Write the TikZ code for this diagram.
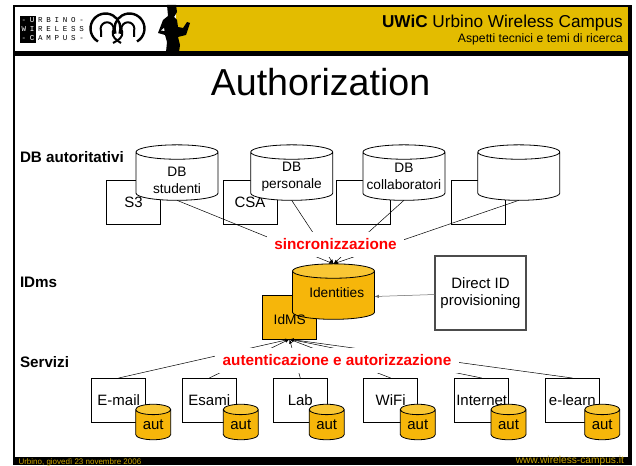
\documentclass[tikz,border=0pt]{standalone}
\usepackage{fontspec}
\setmainfont{Liberation Sans}
\newfontfamily\logofont[LetterSpace=50]{Liberation Mono}
\usetikzlibrary{positioning,shapes.geometric}

\definecolor{barcolor}{HTML}{E3BC00}
\definecolor{storecolor}{HTML}{F6B60A}
\definecolor{storetop}{HTML}{F9C735}
\definecolor{footcolor}{HTML}{C9A400}

\tikzset{
    every node/.style = {inner sep=0pt, outer sep=0pt},
    plain/.style = {draw, line width=0.8pt, fill=white, minimum width=54pt, minimum height=44pt, font=\fontsize{15}{17}\selectfont},
    store/.style = {cylinder, shape border rotate=90, draw, line width=0.8pt, inner sep=2pt, shape aspect=3.6, cylinder uses custom fill, cylinder body fill=white, cylinder end fill=white, minimum width=82pt, minimum height=55.5pt},
    goldstore/.style = {store, cylinder body fill=storecolor, cylinder end fill=storetop},
    autstore/.style = {goldstore, minimum width=35pt, minimum height=35.5pt, shape aspect=2.6},
    storetext/.style = {align=center, font=\fontsize{13.7}{17}\selectfont},
    auttext/.style = {font=\fontsize{15}{17}\selectfont},
    section/.style = {anchor=base west, font=\fontsize{15.2}{17}\selectfont\bfseries},
    banner/.style = {fill=white, text=red, font=\fontsize{15.3}{17}\selectfont\bfseries, minimum height=25pt},
    link/.style = {-latex, line width=0.5pt},
    logoline/.style = {anchor=base west, font=\logofont\fontsize{7.5}{8}\selectfont},
}

\begin{document}
\begin{tikzpicture}[x=1pt, y=-1pt]
    \useasboundingbox (0,0) rectangle (636,465);

    % slide frame
    \fill (12.5,5) rectangle (632,465);
    \fill[white] (15,7) rectangle (176,51);
    \fill[barcolor] (176,7) rectangle (628,51);
    \fill[white] (15,56) rectangle (628,457);

    % logo
    \fill (20,15.7) rectangle (35.5,42.7);
    \node (uwi1) [logoline, text=white] at (21.5,22.5) {-U};
    \node (uwi2) [logoline, text=white] at (21.5,31.5) {WI};
    \node (uwi3) [logoline, text=white] at (21.5,40.5) {-C};
    \node (logo1) [logoline] at (38,22.5) {RBINO-};
    \node (logo2) [logoline] at (38,31.5) {RELESS};
    \node (logo3) [logoline] at (38,40.5) {AMPUS-};
    \draw[line width=2.4pt] (98,41.5) arc (240:-20:15pt);
    \draw[line width=2.4pt] (137,41.5) arc (-60:200:15pt);
    \draw[line width=2pt] (101,37) -- (101,31) arc (200:-30:6.5pt) .. controls (112,37) and (116,40) .. (121,43);
    \draw[line width=2pt] (134,37) -- (134,31) arc (-20:210:6.5pt) .. controls (123,37) and (119,40) .. (113,43);

    % figure with the laptop
    \fill (167,5) -- (176,5) -- (177,12) -- (174,17) -- (177,20) -- (178,27) -- (183,28) -- (187,22) -- (190,23) -- (186,35) -- (178,37) -- (180,45) -- (179,52) -- (166,52) -- (167,42) -- (165,35) -- (158,33) -- (163,20) -- (168,16) -- cycle;
    \fill[white] (161,30.5) -- (164,28) -- (164.5,31) -- cycle;

    % header and title
    \node (campus) [anchor=base east, font=\fontsize{17.2}{19}\selectfont] at (622.7,27.5) {\textbf{UWiC} Urbino Wireless Campus};
    \node (topic) [anchor=base east, font=\fontsize{12.2}{14}\selectfont] at (622.7,42.7) {Aspetti tecnici e temi di ricerca};
    \node (title) [anchor=base, font=\fontsize{37.6}{41}\selectfont] at (320.5,96) {Authorization};

    % section names
    \node (dbname) [section] at (20,162) {DB autoritativi};
    \node (idmname) [section] at (20,287) {IDms};
    \node (srvname) [section] at (20,367) {Servizi};

    % sources
    \node (s3) [plain] at (133.5,202) {S3};
    \node (csa) [plain, right = 62.5pt of s3] {CSA};
    \node (coll) [plain, right = 59pt of csa] {};
    \node (other) [plain, right = 61pt of coll] {};
    \node (dbstud) [store] at (177,177.5) {};
    \node (dbpers) [store] at (291.7,177.5) {};
    \node (dbcoll) [store] at (403.9,177.5) {};
    \node (dbother) [store] at (518.8,177.5) {};
    \node (studtext) [storetext] at (177,180.5) {DB\\studenti};
    \node (perstext) [storetext] at (291.7,176.5) {DB\\personale};
    \node (colltext) [storetext] at (403.9,176.5) {DB\\collaboratori};

    % identity store
    \node (idms) [plain, minimum width=53.5pt, minimum height=43.5pt, fill=storecolor] at (289.5,317.5) {};
    \node (identities) [goldstore] at (333.5,296.5) {};
    \node (idmstext) [storetext] at (289.7,320) {IdMS};
    \node (identtext) [storetext] at (336.7,293) {Identities};
    \node (direct) [plain, draw=black!70, line width=1.1pt, minimum width=91pt, minimum height=74pt, align=center] at (480.5,293) {Direct ID\\provisioning};
    \draw[link, draw=black!60] (direct) -- (identities.east);

    % services
    \node (email) [plain] at (118.7,400) {E-mail};
    \node (esami) [plain, right = 36.6pt of email] {Esami};
    \node (lab) [plain, right = 37pt of esami] {Lab};
    \node (wifi) [plain, right = 36.4pt of lab] {WiFi};
    \node (internet) [plain, right = 37pt of wifi] {Internet};
    \node (elearn) [plain, right = 36.6pt of internet] {e-learn};
    \node (aut1) [autstore] at (153.2,426) {};
    \node (aut2) [autstore] at (240.8,426) {};
    \node (aut3) [autstore] at (326.7,426) {};
    \node (aut4) [autstore] at (417.8,426) {};
    \node (aut5) [autstore] at (508.5,426) {};
    \node (aut6) [autstore] at (602.2,426) {};
    \node (auttext1) [auttext] at (153.2,425) {aut};
    \node (auttext2) [auttext] at (240.8,425) {aut};
    \node (auttext3) [auttext] at (326.7,425) {aut};
    \node (auttext4) [auttext] at (417.8,425) {aut};
    \node (auttext5) [auttext] at (508.5,425) {aut};
    \node (auttext6) [auttext] at (602.2,425) {aut};

    % connectors
    \draw[link] (dbstud.south) -- (identities.north);
    \draw[link] (dbpers.south) -- (identities.north);
    \draw[link] (dbcoll.south) -- (identities.north);
    \draw[link] (dbother.south) -- (identities.north);
    \draw[link] (email.north) -- (idms.south);
    \draw[link] (esami.north) -- (idms.south);
    \draw[link] (lab.north) -- (idms.south);
    \draw[link] (wifi.north) -- (idms.south);
    \draw[link] (internet.north) -- (idms.south);
    \draw[link] (elearn.north) -- (idms.south);
    \node (sync) [banner, minimum width=137pt] at (335.5,244.5) {sincronizzazione};
    \node (auth) [banner, minimum width=244pt] at (337,360.5) {autenticazione e autorizzazione};

    % footer
    \node (place) [anchor=base west, text=footcolor, font=\fontsize{8}{9}\selectfont] at (18.5,464) {Urbino, giovedì 23 novembre 2006};
    \node (site) [anchor=base east, text=footcolor, font=\fontsize{10.2}{11}\selectfont] at (624,463.5) {www.wireless-campus.it};
\end{tikzpicture}
\end{document}
